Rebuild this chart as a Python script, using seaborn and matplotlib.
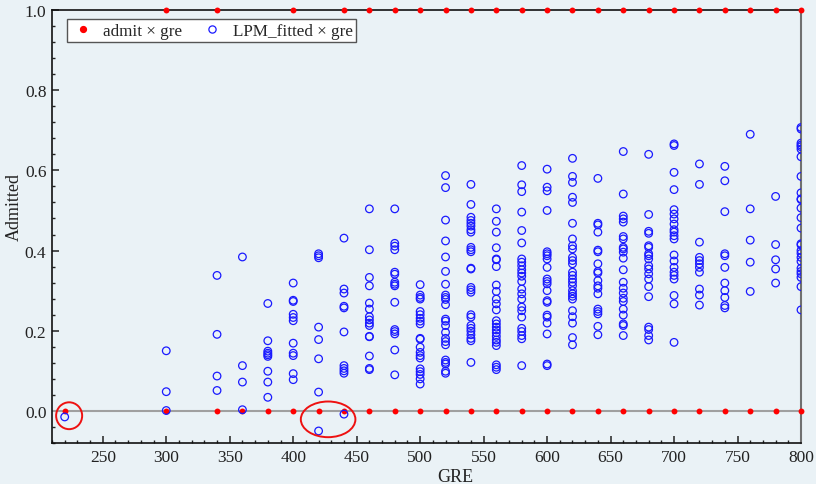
import matplotlib
matplotlib.use('Agg')
import matplotlib.pyplot as plt
from matplotlib.patches import Ellipse
from matplotlib.lines import Line2D
from matplotlib.ticker import MultipleLocator
import pandas as pd
import seaborn as sns

# observed outcome (admit = 0 / 1) at each GRE score
admit0_gre = [220, 300, 340, 360, 380, 400, 420, 440, 460, 480, 500, 520, 540, 560, 580,
              600, 620, 640, 660, 680, 700, 720, 740, 760, 780, 800]
admit1_gre = [300, 340, 400, 440, 460, 480, 500, 520, 540, 560, 580, 600, 620, 640, 660,
              680, 700, 720, 740, 760, 780, 800]

# LPM fitted values, read column by column
gre_levels = [220, 300, 340, 360, 380, 400, 420, 440, 460, 480, 500, 520, 540, 560, 580,
              600, 620, 640, 660, 680, 700, 720, 740, 760, 780, 800]
fitted_by_level = [
    [-0.015],
    [0.150, 0.048, 0.001],
    [0.338, 0.191, 0.087, 0.051],
    [0.384, 0.113, 0.072, 0.003],
    [0.268, 0.175, 0.149, 0.144, 0.140, 0.136, 0.099, 0.072, 0.034],
    [0.319, 0.276, 0.273, 0.241, 0.233, 0.225, 0.169, 0.144, 0.138, 0.093, 0.078],
    [0.392, 0.387, 0.382, 0.209, 0.178, 0.130, 0.047, -0.050],
    [0.431, 0.304, 0.294, 0.261, 0.257, 0.197, 0.113, 0.106, 0.100, 0.094, -0.008],
    [0.504, 0.402, 0.333, 0.312, 0.269, 0.254, 0.235, 0.227, 0.219, 0.213, 0.186, 0.185,
     0.137, 0.106, 0.103],
    [0.504, 0.418, 0.411, 0.402, 0.346, 0.341, 0.321, 0.316, 0.312, 0.271, 0.203, 0.198,
     0.192, 0.152, 0.090],
    [0.315, 0.289, 0.283, 0.279, 0.248, 0.240, 0.231, 0.224, 0.217, 0.181, 0.179, 0.159,
     0.146, 0.138, 0.132, 0.105, 0.098, 0.091, 0.080, 0.067],
    [0.587, 0.557, 0.476, 0.424, 0.384, 0.348, 0.316, 0.289, 0.283, 0.278, 0.265, 0.229,
     0.224, 0.213, 0.196, 0.181, 0.173, 0.165, 0.127, 0.121, 0.117, 0.099, 0.094],
    [0.565, 0.515, 0.483, 0.475, 0.468, 0.461, 0.452, 0.446, 0.408, 0.402, 0.397, 0.356,
     0.354, 0.308, 0.302, 0.296, 0.240, 0.234, 0.213, 0.206, 0.199, 0.190, 0.181, 0.175,
     0.121],
    [0.504, 0.473, 0.446, 0.407, 0.379, 0.377, 0.360, 0.314, 0.298, 0.279, 0.267, 0.252,
     0.225, 0.217, 0.209, 0.202, 0.195, 0.186, 0.177, 0.171, 0.163, 0.115, 0.109, 0.103],
    [0.612, 0.564, 0.547, 0.496, 0.450, 0.419, 0.379, 0.371, 0.362, 0.352, 0.344, 0.336,
     0.323, 0.304, 0.292, 0.279, 0.259, 0.250, 0.234, 0.206, 0.198, 0.188, 0.180, 0.113],
    [0.603, 0.558, 0.549, 0.500, 0.397, 0.392, 0.387, 0.379, 0.358, 0.329, 0.323, 0.317,
     0.300, 0.275, 0.271, 0.239, 0.234, 0.219, 0.192, 0.117, 0.113],
    [0.630, 0.585, 0.570, 0.533, 0.520, 0.468, 0.429, 0.412, 0.404, 0.383, 0.375, 0.367,
     0.346, 0.338, 0.329, 0.321, 0.312, 0.300, 0.292, 0.286, 0.279, 0.250, 0.235, 0.219,
     0.183, 0.165],
    [0.580, 0.468, 0.464, 0.446, 0.401, 0.397, 0.367, 0.348, 0.344, 0.325, 0.312, 0.306,
     0.292, 0.254, 0.248, 0.242, 0.211, 0.190],
    [0.647, 0.541, 0.486, 0.479, 0.471, 0.435, 0.429, 0.408, 0.404, 0.396, 0.381, 0.352,
     0.321, 0.306, 0.294, 0.281, 0.273, 0.254, 0.239, 0.217, 0.213, 0.188],
    [0.640, 0.490, 0.448, 0.443, 0.412, 0.408, 0.392, 0.387, 0.379, 0.362, 0.354, 0.342,
     0.329, 0.310, 0.285, 0.209, 0.203, 0.188, 0.177],
    [0.666, 0.662, 0.595, 0.552, 0.502, 0.491, 0.479, 0.466, 0.452, 0.446, 0.437, 0.429,
     0.389, 0.374, 0.358, 0.346, 0.338, 0.329, 0.288, 0.267, 0.171],
    [0.616, 0.565, 0.421, 0.383, 0.375, 0.367, 0.358, 0.346, 0.304, 0.289, 0.264],
    [0.610, 0.574, 0.497, 0.392, 0.387, 0.358, 0.319, 0.300, 0.283, 0.263, 0.257],
    [0.690, 0.504, 0.426, 0.371, 0.298],
    [0.535, 0.415, 0.377, 0.354, 0.319],
    [0.707, 0.703, 0.668, 0.663, 0.659, 0.653, 0.634, 0.585, 0.544, 0.529, 0.527, 0.506,
     0.482, 0.456, 0.417, 0.414, 0.400, 0.393, 0.383, 0.373, 0.356, 0.348, 0.342, 0.333,
     0.310, 0.252],
]

# the two red ellipses highlighting negative fitted values (centre x, centre y, width, height)
highlight_1 = (223.5, -0.012, 20.5, 0.067)
highlight_2 = (427.5, -0.021, 43.0, 0.089)

admit_df = pd.DataFrame({
    'gre': admit0_gre + admit1_gre,
    'admit': [0] * len(admit0_gre) + [1] * len(admit1_gre),
})
rows = []
for g, vals in zip(gre_levels, fitted_by_level):
    for v in vals:
        rows.append((g, v))
lpm_df = pd.DataFrame(rows, columns=['gre', 'LPM_fitted'])

bg = '#eaf2f6'
sns.set_theme(style='ticks')
plt.rcParams['font.family'] = ['Liberation Serif', 'DejaVu Serif']

fig = plt.figure(figsize=(8.16, 4.85), dpi=100, facecolor=bg)
ax = fig.add_axes([52 / 816, 41 / 485, 749 / 816, 433 / 485])
ax.set_facecolor(bg)

ax.axhline(0, color='#a0a0a0', lw=1.5, zorder=1)

sns.scatterplot(data=admit_df, x='gre', y='admit', ax=ax, color='#ff0000', s=18,
                linewidth=0, marker='o', zorder=3, clip_on=False)
sns.scatterplot(data=lpm_df, x='gre', y='LPM_fitted', ax=ax, marker='o', s=30,
                facecolors='none', edgecolor='#1a1aff', linewidth=0.9, zorder=4)

for cx, cy, w, h in (highlight_1, highlight_2):
    ax.add_patch(Ellipse((cx, cy), w, h, fill=False, edgecolor='#ee1111', lw=1.4, zorder=5))

ax.set_xlim(210, 800)
ax.set_ylim(-0.08, 1.0)
ax.xaxis.set_major_locator(MultipleLocator(50))
ax.xaxis.set_minor_locator(MultipleLocator(10))
ax.yaxis.set_major_locator(MultipleLocator(0.2))
ax.yaxis.set_minor_locator(MultipleLocator(0.04))
ax.yaxis.set_major_formatter(matplotlib.ticker.FormatStrFormatter('%.1f'))
ax.tick_params(which='major', direction='in', length=5, width=1.1, labelsize=12.5,
               colors='#222222', pad=4)
ax.tick_params(which='minor', direction='in', length=2.5, width=1.0, colors='#222222')

for side in ['left', 'bottom', 'top']:
    ax.spines[side].set_color('#111111')
    ax.spines[side].set_linewidth(1.2)
ax.spines['right'].set_color('#707070')
ax.spines['right'].set_linewidth(1.5)

ax.set_xlabel('GRE', fontsize=13, color='#222222')
ax.set_ylabel('Admitted', fontsize=13, color='#222222')
ax.xaxis.set_label_coords((455 - 52) / 749, -0.058)
ax.yaxis.set_label_coords(-0.039, 0.547)

handles = [
    Line2D([], [], ls='none', marker='o', color='#ff0000', markersize=4.2),
    Line2D([], [], ls='none', marker='o', markerfacecolor='none',
           markeredgecolor='#1a1aff', markersize=5.2, markeredgewidth=0.9),
]
leg = ax.legend(handles, ['admit \u00d7 gre', 'LPM_fitted \u00d7 gre'], ncol=2,
                loc='upper left', bbox_to_anchor=(0.0196, 0.979), borderaxespad=0,
                fontsize=12.3, frameon=True, fancybox=False, framealpha=1,
                edgecolor='#555555', handletextpad=0.45, columnspacing=1.0,
                borderpad=0.2, handlelength=1.5)
leg.get_frame().set_linewidth(1.0)

fig.savefig('out.png', dpi=100, facecolor=bg)
